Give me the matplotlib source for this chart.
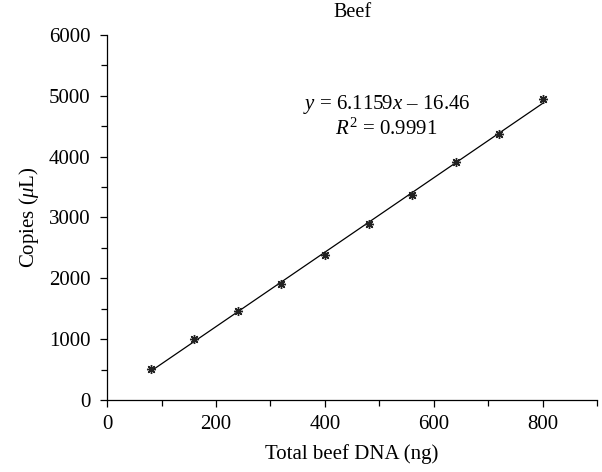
import numpy as np
import matplotlib
matplotlib.use('Agg')
import matplotlib.pyplot as plt
from matplotlib.ticker import MultipleLocator

plt.rcParams['font.family'] = ['Liberation Serif', 'DejaVu Serif']
plt.rcParams['mathtext.fontset'] = 'custom'
plt.rcParams['mathtext.rm'] = 'Liberation Serif'
plt.rcParams['mathtext.it'] = 'Liberation Serif:italic'

# data
dna_ng = [80, 160, 240, 320, 400, 480, 560, 640, 720, 800]
copies = [510, 1000, 1470, 1900, 2380, 2900, 3370, 3910, 4370, 4940]

slope = 6.1159
intercept = -16.46
r2 = 0.9991

fig = plt.figure(figsize=(6.02, 4.72), dpi=100)
ax = fig.add_axes([0.178, 0.1525, 0.814, 0.7735])

xs = np.array([dna_ng[0], dna_ng[-1]])
ax.plot(xs, slope * xs + intercept, color='black', lw=0.9)
ax.plot(dna_ng, copies, linestyle='none', marker=(8, 2, 0), ms=6.5,
        mec='#222222', mew=1.0)

ax.set_xlim(0, 900)
ax.set_ylim(0, 6000)
ax.set_xticks([0, 200, 400, 600, 800])
ax.xaxis.set_minor_locator(MultipleLocator(100))
ax.yaxis.set_major_locator(MultipleLocator(1000))
ax.yaxis.set_minor_locator(MultipleLocator(500))

ax.spines['top'].set_visible(False)
ax.spines['right'].set_visible(False)
for s in ['left', 'bottom']:
    ax.spines[s].set_linewidth(0.9)
ax.tick_params(which='both', direction='out', width=0.9, labelsize=15)
ax.tick_params(which='major', length=5)
ax.tick_params(which='minor', length=4)
ax.tick_params(axis='y', pad=7)
ax.tick_params(axis='x', pad=6)

ax.set_xlabel('Total beef DNA (ng)', fontsize=15, labelpad=7)
ax.set_ylabel(r'Copies ($\mu$L)', fontsize=15, labelpad=6)
ax.set_title('Beef', fontsize=14.5, pad=13)

ax.text(513, 4850, r'$y$ = %.4f$x$ – %.2f' % (slope, -intercept),
        ha='center', va='center', fontsize=15)
ax.text(513, 4450, r'$R^2$ = %.4f' % r2, ha='center', va='center', fontsize=15)

fig.savefig('out.png', dpi=100)
